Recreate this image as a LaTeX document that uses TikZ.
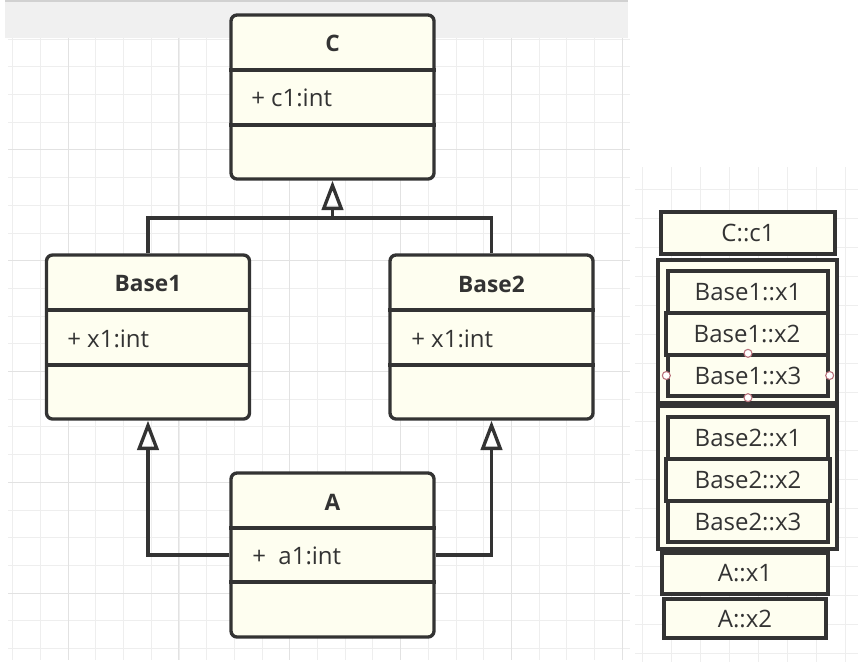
\documentclass[tikz,border=0pt]{standalone}
\usepackage{fontspec}
\setmainfont{Open Sans}
\usetikzlibrary{arrows.meta}

\definecolor{umlfill}{HTML}{FEFEF0}
\definecolor{umlline}{HTML}{333333}
\definecolor{gridlt}{HTML}{EEEEEE}
\definecolor{griddk}{HTML}{E2E2E2}
\definecolor{bandgray}{HTML}{F0F0F0}
\definecolor{handlered}{HTML}{B8707A}

\tikzset{
  classbox/.style={draw=umlline, fill=umlfill, line width=2.5pt, rounded corners=4.5pt,
    inner sep=0pt, minimum width=152.25pt, minimum height=123pt},
  classname/.style={font=\fontsize{17}{19}\selectfont\bfseries, text=umlline, inner sep=0pt},
  classattr/.style={font=\fontsize{18}{20}\selectfont, text=umlline, inner sep=0pt, anchor=west},
  divider/.style={draw=umlline, line width=2.5pt},
  inherit/.style={draw=umlline, line width=2.5pt, -{Triangle[open, length=22pt, width=16pt]}},
  slot/.style={draw=umlline, fill=umlfill, line width=2.5pt, inner sep=0pt,
    font=\fontsize{18}{20}\selectfont, text=umlline, minimum height=31.5pt},
  handle/.style={draw=handlered, fill=white, line width=0.8pt},
  gridline/.style={draw=gridlt, line width=0.6pt},
  gridmajor/.style={draw=griddk, line width=0.7pt}
}

\begin{document}
\begin{tikzpicture}[x=0.75pt,y=0.75pt,yscale=-1]
\useasboundingbox (0,0) rectangle (858,671);
% backdrop
\fill[bandgray] (5,0) rectangle (628,38);
\fill[black!18] (5,0) rectangle (628,2);
\foreach \k in {0,...,22} {
  \path[gridline] ({12.7+27.7*\k},38) -- ({12.7+27.7*\k},660);
  \path[gridline] (8,{39+27.7*\k}) -- (630,{39+27.7*\k});
}
\foreach \k in {2,6,...,22} \path[gridmajor] ({12.7+27.7*\k},38) -- ({12.7+27.7*\k},660);
\foreach \k in {4,8,...,20} \path[gridmajor] (8,{39+27.7*\k}) -- (630,{39+27.7*\k});
\foreach \k in {0,...,7} \path[gridline] ({642.7+29*\k},167) -- ({642.7+29*\k},662);
\foreach \k in {0,...,16} \path[gridline] (635,{189+29*\k}) -- (858,{189+29*\k});

% class diagram
\node[classbox] (C) at (332.5,97) {};
\node[classbox] (Base1) at (148,337) {};
\node[classbox] (Base2) at (491.5,337) {};
\node[classbox] (A) at (332.5,555) {};
\path[divider] (C.west |- 0,70) -- (C.east |- 0,70);
\path[divider] (C.west |- 0,125) -- (C.east |- 0,125);
\path[divider] (Base1.west |- 0,310) -- (Base1.east |- 0,310);
\path[divider] (Base1.west |- 0,365) -- (Base1.east |- 0,365);
\path[divider] (Base2.west |- 0,310) -- (Base2.east |- 0,310);
\path[divider] (Base2.west |- 0,365) -- (Base2.east |- 0,365);
\path[divider] (A.west |- 0,528) -- (A.east |- 0,528);
\path[divider] (A.west |- 0,582) -- (A.east |- 0,582);
\node[classname] (Cname) at (332.5,43) {C};
\node[classname] (Base1name) at (148,284) {Base1};
\node[classname] (Base2name) at (491.5,284) {Base2};
\node[classname] (Aname) at (332.5,502) {A};
\node[classattr] (Cattr) at (251,98) {+ c1:int};
\node[classattr] (Base1attr) at (67,339) {+ x1:int};
\node[classattr] (Base2attr) at (411,339) {+ x1:int};
\node[classattr] (Aattr) at (252,556) {+~~a1:int};

\coordinate (join) at (332.5,218);
\path[divider] (Base1.north) |- (join);
\path[divider] (Base2.north) |- (join);
\path[inherit] (join) -- (C.south);
\path[inherit] (A.west) -| (Base1.south);
\path[inherit] (A.east) -| (Base2.south);

% memory layout
\node[slot, minimum width=130.5pt] (cc1) at (748,233) {C::c1};
\node[slot, minimum width=134.25pt, minimum height=107.25pt] (grp1) at (747.5,331.5) {};
\node[slot, minimum width=120pt] (b1x1) at (748,292) {Base1::x1};
\node[slot, minimum width=121.5pt] (b1x2) at (747,334) {Base1::x2};
\node[slot, minimum width=120pt, minimum height=30.75pt] (b1x3) at (748,375.5) {Base1::x3};
\node[slot, minimum width=134.25pt, minimum height=107.25pt] (grp2) at (747.5,477.5) {};
\node[slot, minimum width=120pt] (b2x1) at (748,438) {Base2::x1};
\node[slot, minimum width=123pt] (b2x2) at (748,480) {Base2::x2};
\node[slot, minimum width=120pt, minimum height=30.75pt] (b2x3) at (748,521.5) {Base2::x3};
\node[slot, minimum width=124.5pt, minimum height=30.75pt] (ax1) at (745,573.5) {A::x1};
\node[slot, minimum width=121.5pt, minimum height=29.25pt] (ax2) at (745,618.5) {A::x2};
\foreach \a in {north,south,west,east} \path[handle] (b1x3.\a) circle (4);
\end{tikzpicture}
\end{document}
